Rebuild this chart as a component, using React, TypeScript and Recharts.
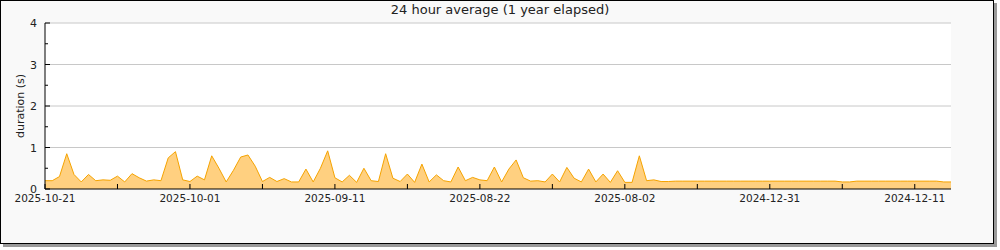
import { Area, AreaChart, ReferenceLine, XAxis, YAxis } from "recharts";

const durations = [
  0.2, 0.2, 0.3, 0.85, 0.35, 0.17, 0.35, 0.2, 0.22, 0.21,
  0.31, 0.17, 0.37, 0.27, 0.19, 0.22, 0.2, 0.75, 0.9, 0.22,
  0.18, 0.31, 0.22, 0.8, 0.5, 0.17, 0.45, 0.77, 0.82, 0.55,
  0.18, 0.28, 0.18, 0.25, 0.17, 0.17, 0.48, 0.17, 0.5, 0.92,
  0.27, 0.17, 0.33, 0.16, 0.5, 0.2, 0.18, 0.85, 0.26, 0.18,
  0.36, 0.16, 0.6, 0.17, 0.34, 0.2, 0.17, 0.53, 0.2, 0.28,
  0.22, 0.2, 0.53, 0.17, 0.48, 0.7, 0.27, 0.19, 0.2, 0.17,
  0.36, 0.17, 0.52, 0.26, 0.17, 0.48, 0.17, 0.36, 0.16, 0.44,
  0.16, 0.16, 0.8, 0.2, 0.22, 0.18, 0.18, 0.19, 0.19, 0.19,
  0.19, 0.19, 0.19, 0.19, 0.19, 0.19, 0.19, 0.19, 0.19, 0.19,
  0.19, 0.19, 0.19, 0.19, 0.19, 0.19, 0.19, 0.19, 0.19, 0.19,
  0.17, 0.17, 0.19, 0.19, 0.19, 0.19, 0.19, 0.19, 0.19, 0.19,
  0.19, 0.19, 0.19, 0.19, 0.17, 0.17
];

const xTicks = [0, 10, 20, 30, 40, 50, 60, 70, 80, 90, 100, 110, 120];
const xLabels = [
  "2025-10-21", "", "2025-10-01", "", "2025-09-11", "", "2025-08-22", "",
  "2025-08-02", "", "2024-12-31", "", "2024-12-11"
];
const yTicks = [0, 0.5, 1, 1.5, 2, 2.5, 3, 3.5, 4];
const gridLines = [1, 2, 3, 4];

const data = durations.map((v, i) => ({ i, v }));

const FONT = "'DejaVu Sans', sans-serif";

function XTick({ x, y, payload }: any) {
  const label = xLabels[xTicks.indexOf(payload.value)];
  return (
    <g>
      <line x1={x} x2={x} y1={y - 5} y2={y} stroke="#000" />
      {label ? (
        <text x={x} y={y + 13} textAnchor="middle" fontSize={10.5} fontFamily={FONT} fill="#222">
          {label}
        </text>
      ) : null}
    </g>
  );
}

function YTick({ x, y, payload }: any) {
  const major = Number.isInteger(payload.value);
  return (
    <g>
      <line x1={x} x2={x + (major ? 5 : 3)} y1={y} y2={y} stroke="#000" />
      {major ? (
        <text x={x - 8} y={y + 4} textAnchor="end" fontSize={11} fontFamily={FONT} fill="#222">
          {payload.value}
        </text>
      ) : null}
    </g>
  );
}

export default function App() {
  return (
    <div style={{ position: "absolute", left: 0, top: 0, width: 1000, height: 250 }}>
      <div
        style={{
          position: "absolute",
          left: 0,
          top: 0,
          width: 994,
          height: 244,
          boxSizing: "border-box",
          background: "#f9f9f9",
          border: "1px solid #000",
          boxShadow: "3px 3px 0 #9a9a9a"
        }}
      />
      <div style={{ position: "absolute", left: 45, top: 23, width: 906, height: 166, background: "#fff" }} />
      <div
        style={{
          position: "absolute",
          left: 0,
          top: 2,
          width: 1000,
          textAlign: "center",
          fontFamily: FONT,
          fontSize: 13,
          color: "#222"
        }}
      >
        24 hour average (1 year elapsed)
      </div>
      <div
        style={{
          position: "absolute",
          left: 20,
          top: 106,
          transform: "translate(-50%, -50%) rotate(-90deg)",
          fontFamily: FONT,
          fontSize: 11,
          color: "#222",
          whiteSpace: "nowrap"
        }}
      >
        duration (s)
      </div>
      <div style={{ position: "absolute", left: 0, top: 0 }}>
        <AreaChart width={1000} height={250} data={data} margin={{ top: 23, right: 49, left: 0, bottom: 31 }}>
          {gridLines.map((g) => (
            <ReferenceLine key={g} y={g} stroke="#c8c8c8" strokeWidth={1} />
          ))}
          <Area
            type="linear"
            dataKey="v"
            stroke="#f5a300"
            strokeWidth={1}
            fill="#ffd080"
            fillOpacity={1}
            isAnimationActive={false}
          />
          <XAxis
            dataKey="i"
            type="number"
            domain={[0, 125]}
            ticks={xTicks}
            height={30}
            tickSize={0}
            tickMargin={0}
            tickLine={false}
            axisLine={{ stroke: "#000" }}
            tick={<XTick />}
            interval={0}
          />
          <YAxis
            type="number"
            domain={[0, 4]}
            ticks={yTicks}
            width={45}
            tickSize={0}
            tickMargin={0}
            tickLine={false}
            axisLine={{ stroke: "#000" }}
            tick={<YTick />}
            interval={0}
          />
        </AreaChart>
      </div>
    </div>
  );
}
